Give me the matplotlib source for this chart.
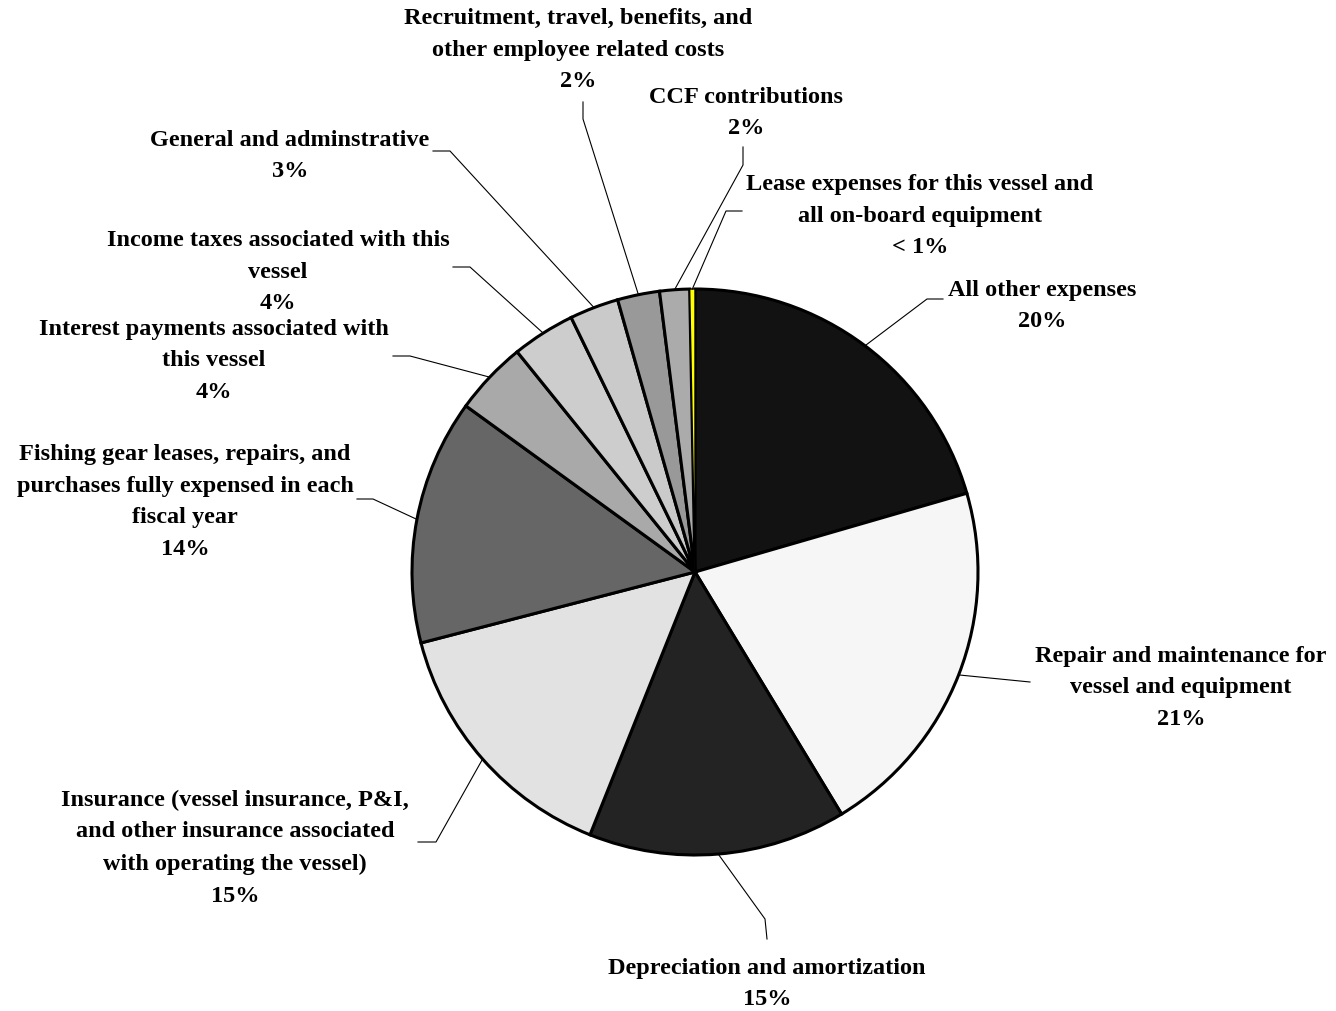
import numpy as np
import matplotlib.pyplot as plt

W, H = 1336, 1012

# expense shares (percent), clockwise from 12 o'clock
categories = [
    "All other expenses",
    "Repair and maintenance for\nvessel and equipment",
    "Depreciation and amortization",
    "Insurance (vessel insurance, P&I,\nand other insurance associated\nwith operating the vessel)",
    "Fishing gear leases, repairs, and\npurchases fully expensed in each\nfiscal year",
    "Interest payments associated with\nthis vessel",
    "Income taxes associated with this\nvessel",
    "General and adminstrative",
    "Recruitment, travel, benefits, and\nother employee related costs",
    "CCF contributions",
    "Lease expenses for this vessel and\nall on-board equipment",
]
shares = [20.49, 20.8, 14.7, 14.9, 14.0, 4.2, 3.6, 2.8, 2.4, 1.7, 0.3]
colors = ["#121212", "#f6f6f6", "#232323", "#e2e2e2", "#666666", "#a9a9a9",
          "#cdcdcd", "#cacaca", "#999999", "#ababab", "#ffff00"]

# label block centres and leader elbows, in pixels from the top-left corner
label_xy = [(1042, 306), (1181, 688), (767, 984), (235, 848), (185, 502),
            (214, 361), (278, 272), (290, 156), (578, 50), (746, 113), (920, 216)]
leaders = [
    [(943, 300), (927, 300)],
    [(1030, 683)],
    [(767, 940), (765, 920)],
    [(418, 843), (436, 843)],
    [(357, 500), (373, 500)],
    [(393, 357), (410, 357)],
    [(453, 268), (470, 268)],
    [(433, 152), (450, 152)],
    [(583, 103), (583, 120)],
    [(743, 148), (743, 166)],
    [(742, 212), (726, 212)],
]

CX, CY, R = 695, 573, 283


def px(x, y):
    return x, H - y


def pct(v):
    return "< 1%" if v < 1 else f"{v:.0f}%"


fig = plt.figure(figsize=(W / 100, H / 100), dpi=100)
ax = fig.add_axes([0, 0, 1, 1])

wedges, _ = ax.pie(
    shares,
    colors=colors,
    startangle=90,
    counterclock=False,
    center=px(CX, CY),
    radius=R,
    wedgeprops=dict(edgecolor="black", linewidth=2.2),
)
wedges[-1].set_linewidth(1.0)

for w, name, v, (lx, ly), pts in zip(wedges, categories, shares, label_xy, leaders):
    mid = np.deg2rad((w.theta1 + w.theta2) / 2)
    edge = (CX + R * np.cos(mid), CY - R * np.sin(mid))
    path = pts + [edge]
    xs = [p[0] for p in path]
    ys = [H - p[1] for p in path]
    ax.plot(xs, ys, color="black", lw=0.8, zorder=1)
    ax.text(*px(lx, ly), f"{name}\n{pct(v)}", ha="center", va="center",
            fontsize=17.5, fontweight="bold", family="Liberation Serif",
            linespacing=1.68)

ax.set_xlim(0, W)
ax.set_ylim(0, H)
ax.set_aspect("equal")
ax.axis("off")

fig.savefig("out.png", dpi=100, facecolor="white")
